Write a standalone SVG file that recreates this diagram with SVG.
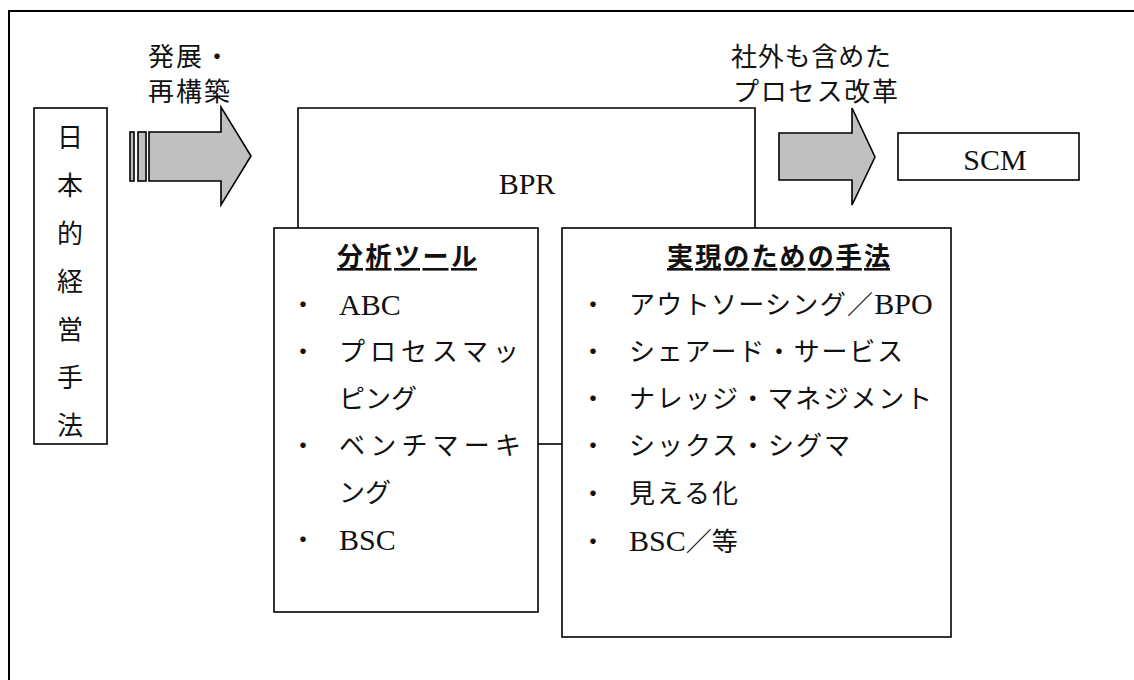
<svg xmlns="http://www.w3.org/2000/svg" width="1134" height="680" viewBox="0 0 1134 680">
<style>
.box{fill:#fff;stroke:#000;stroke-width:1.6}
.arr{fill:#c0c0c0;stroke:#000;stroke-width:1.6;stroke-linejoin:miter}
.line{fill:none;stroke:#000;stroke-width:1.6}
text{font-family:"Liberation Serif","Noto Sans CJK JP",serif;fill:#111;font-size:26px}
.lat{font-size:30px}
.h{font-weight:bold;text-decoration:underline}
.c{text-anchor:middle;dominant-baseline:central}
</style>
<rect width="1134" height="680" fill="#fff"/>
<path d="M9,680 V11 H1134" fill="none" stroke="#000" stroke-width="2"/>

<g id="arrows">
  <g id="arrow1">
    <rect class="arr" x="130" y="132" width="4" height="49"/>
    <rect class="arr" x="138" y="132" width="8" height="49"/>
    <polygon class="arr" points="149,132 221,132 221,107 251,156 221,205 221,181 149,181"/>
    <text x="148" y="66" textLength="82">発展・</text>
    <text x="148" y="101" textLength="82">再構築</text>
  </g>
  <g id="arrow2">
    <polygon class="arr" points="779,133 852,133 852,108 875,157 852,205 852,180 779,180"/>
    <text x="731" y="66" textLength="160">社外も含めた</text>
    <text x="733" y="101" textLength="165">プロセス改革</text>
  </g>
</g>

<g id="connectors">
  <line class="line" x1="538" y1="444" x2="562" y2="444"/>
</g>

<g id="node-nihon">
  <rect class="box" x="34" y="108" width="73" height="336"/>
  <text class="c" x="70" y="138">日</text>
  <text class="c" x="70" y="186">本</text>
  <text class="c" x="70" y="234">的</text>
  <text class="c" x="70" y="282">経</text>
  <text class="c" x="70" y="330">営</text>
  <text class="c" x="70" y="378">手</text>
  <text class="c" x="70" y="426">法</text>
</g>

<g id="node-bpr">
  <path class="line" d="M298,228 V108 H755 V228"/>
  <text class="lat" x="527" y="194" text-anchor="middle">BPR</text>
</g>

<g id="node-scm">
  <rect class="box" x="898" y="133" width="181" height="47"/>
  <text class="lat" x="995" y="170" text-anchor="middle">SCM</text>
</g>

<g id="node-tools">
  <rect class="box" x="274" y="228" width="264" height="384"/>
  <text class="h" x="337" y="266" textLength="140">分析ツール</text>
  <text x="290" y="314">・</text>
  <text class="lat" x="339" y="315">ABC</text>
  <text x="290" y="361">・</text>
  <text x="339" y="361" textLength="180">プロセスマッ</text>
  <text x="339" y="408">ピング</text>
  <text x="290" y="455">・</text>
  <text x="339" y="455" textLength="182">ベンチマーキ</text>
  <text x="339" y="502">ング</text>
  <text x="290" y="549">・</text>
  <text class="lat" x="339" y="550">BSC</text>
</g>

<g id="node-methods">
  <rect class="box" x="562" y="228" width="389" height="409"/>
  <text class="h" x="667" y="266" textLength="223">実現のための手法</text>
  <text x="580" y="314">・</text>
  <text x="629" y="314"><tspan textLength="244">アウトソーシング／</tspan><tspan class="lat">BPO</tspan></text>
  <text x="580" y="361">・</text>
  <text x="629" y="361" textLength="274">シェアード・サービス</text>
  <text x="580" y="408">・</text>
  <text x="629" y="408" textLength="303">ナレッジ・マネジメント</text>
  <text x="580" y="455">・</text>
  <text x="629" y="455" textLength="221">シックス・シグマ</text>
  <text x="580" y="503">・</text>
  <text x="629" y="503" textLength="109">見える化</text>
  <text x="580" y="551">・</text>
  <text x="629" y="551"><tspan class="lat">BSC</tspan>／等</text>
</g>
</svg>
